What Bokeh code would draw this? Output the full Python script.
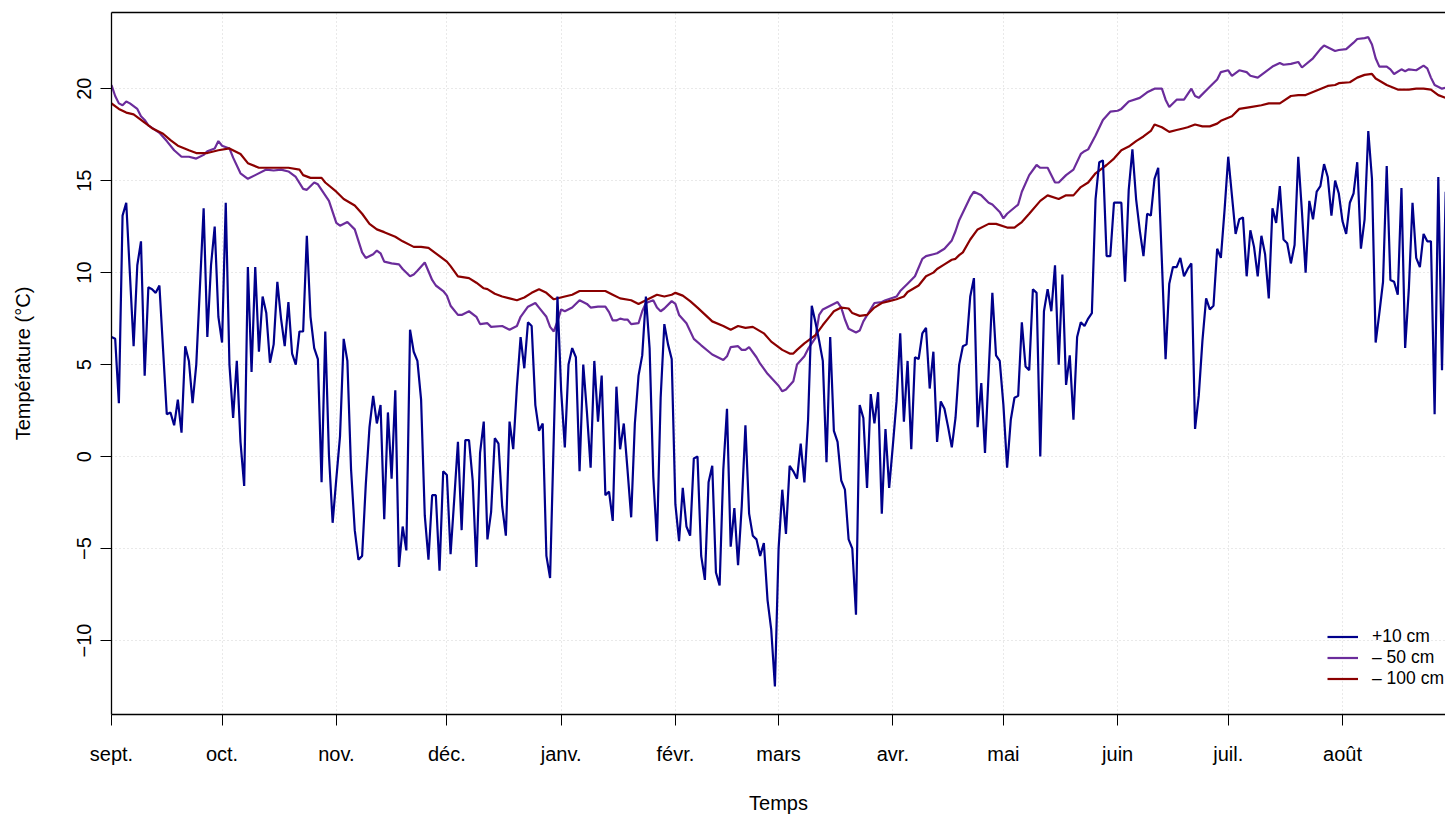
import pandas as pd
from bokeh.plotting import figure
from bokeh.models import Range1d, FixedTicker, LinearAxis, Legend, LegendItem
from bokeh.embed import file_html
from bokeh.resources import INLINE

# --- Calendar: one hydrological year starting on 1 September -------------
debut = pd.Timestamp("2014-09-01")
mois_debut = pd.date_range(debut, periods=12, freq="MS")
mois_ticks = [int((d - debut).days) for d in mois_debut]
mois_labels = ["sept.", "oct.", "nov.", "déc.", "janv.", "févr.",
               "mars", "avr.", "mai", "juin", "juil.", "août"]

y_ticks = [-10, -5, 0, 5, 10, 15, 20]

# --- Air temperature, +10 cm (day since 1 Sept, °C) -----------------------
jours_p10 = [0, 1, 2, 3, 4, 6, 7, 8, 9, 10, 11, 12, 13, 15, 16, 17, 18, 19, 20,
             21, 22, 23, 25, 26, 27, 28, 29, 30, 31, 32, 33, 34, 35, 36, 37, 38,
             39, 40, 41, 42, 43, 44, 45, 46, 47, 48, 49, 50, 51, 52, 53, 54, 55,
             56, 57, 58, 59, 60, 61, 62, 63, 64, 65, 66, 67, 68, 69, 70, 71, 72,
             73, 74, 75, 76, 77, 78, 79, 80, 81, 82, 83, 84, 85, 86, 87, 88, 89,
             90, 91, 92, 93, 94, 95, 96, 97, 98, 99, 100, 101, 102, 103, 104,
             105, 106, 107, 108, 109, 110, 111, 112, 113, 114, 115, 116, 117,
             118, 119, 121, 122, 123, 124, 125, 126, 127, 128, 129, 130, 131,
             132, 133, 134, 135, 136, 137, 138, 139, 140, 141, 142, 143, 144,
             145, 146, 147, 148, 149, 150, 151, 152, 153, 154, 155, 156, 157,
             158, 159, 160, 161, 162, 163, 164, 165, 166, 167, 168, 169, 170,
             171, 172, 173, 174, 175, 176, 177, 178, 179, 180, 181, 182, 183,
             184, 185, 186, 187, 188, 189, 190, 191, 192, 193, 194, 195, 196,
             197, 198, 199, 200, 201, 202, 203, 204, 205, 206, 207, 208, 209,
             210, 211, 212, 213, 214, 215, 216, 217, 218, 219, 220, 221, 222,
             223, 224, 225, 226, 227, 228, 229, 230, 231, 232, 233, 234, 235,
             236, 237, 238, 239, 240, 241, 242, 243, 244, 245, 246, 247, 248,
             249, 250, 251, 252, 253, 254, 255, 256, 257, 258, 259, 260, 261,
             262, 263, 264, 265, 266, 267, 268, 269, 270, 271, 272, 273, 274,
             275, 276, 277, 278, 279, 280, 281, 282, 283, 284, 285, 286, 287,
             288, 289, 290, 291, 292, 293, 294, 295, 296, 297, 298, 299, 300,
             301, 302, 303, 304, 305, 306, 307, 308, 309, 310, 311, 312, 313,
             314, 315, 316, 317, 318, 319, 320, 321, 322, 323, 324, 325, 326,
             327, 328, 329, 330, 331, 332, 333, 334, 335, 336, 337, 338, 339,
             340, 341, 342, 343, 344, 345, 346, 347, 348, 349, 350, 351, 352,
             353, 354, 355, 356, 357, 358, 359, 360, 361, 362]
temp_p10 = [6.5, 6.4, 2.9, 13.1, 13.8, 6.0, 10.4, 11.7, 4.4, 9.2, 9.1, 8.9, 9.3,
            2.3, 2.4, 1.7, 3.1, 1.3, 6.0, 5.2, 2.9, 5.0, 13.5, 6.5, 10.4, 12.5,
            7.6, 6.2, 13.8, 5.0, 2.1, 5.2, 0.8, -1.6, 10.3, 4.6, 10.3, 5.7, 8.7,
            7.8, 5.1, 6.1, 9.5, 7.5, 6.0, 8.4, 5.6, 5.0, 6.8, 6.8, 12.0, 7.6,
            5.9, 5.3, -1.4, 6.8, 0.1, -3.6, -1.2, 1.1, 6.4, 5.2, -0.7, -4.0,
            -5.6, -5.4, -1.5, 1.6, 3.3, 1.8, 2.8, -3.4, 2.4, -1.2, 3.6, -6.0,
            -3.8, -5.1, 6.9, 5.7, 5.2, 3.1, -3.2, -5.6, -2.1, -2.1, -6.2, -0.8,
            -1.0, -5.3, -2.3, 0.8, -4.0, 0.9, 0.9, -1.3, -6.0, 0.2, 1.9, -4.5,
            -3.0, 1.0, 0.7, -2.7, -4.3, 1.9, 0.4, 3.8, 6.5, 4.8, 7.3, 7.1, 2.8,
            1.4, 1.8, -5.4, -6.6, 8.7, 3.6, 0.5, 5.0, 5.9, 5.4, -0.8, 5.0, 2.4,
            -0.6, 5.2, 1.9, 4.4, -2.1, -1.9, -3.5, 3.8, 0.4, 1.8, -0.7, -3.3,
            1.8, 4.4, 5.5, 8.7, 5.9, -1.1, -4.6, 3.2, 7.2, 6.1, 5.3, -2.6, -4.6,
            -1.7, -3.8, -4.3, -0.1, 0.0, -5.4, -6.7, -1.4, -0.5, -6.3, -7.0,
            -0.7, 2.6, -4.9, -2.8, -5.9, -2.7, 1.7, -3.1, -4.3, -4.5, -5.4,
            -4.7, -7.8, -9.4, -12.5, -5.0, -1.8, -4.2, -0.5, -0.8, -1.2, 0.7,
            -1.4, 2.0, 8.2, 7.3, 6.3, 5.2, -0.3, 6.5, 1.4, 0.8, -1.3, -1.8,
            -4.5, -5.0, -8.6, 2.8, 2.1, -1.7, 3.4, 1.8, 3.5, -3.1, 1.5, -1.7,
            0.6, 3.0, 6.7, 1.9, 5.2, 0.4, 5.4, 5.3, 6.7, 7.0, 3.7, 5.7, 0.8,
            3.0, 2.6, 1.6, 0.5, 2.1, 5.0, 6.0, 6.1, 8.7, 9.7, 1.6, 4.0, 0.2,
            4.6, 8.9, 5.5, 5.2, 2.8, -0.6, 2.0, 3.2, 3.3, 7.3, 4.9, 4.7, 9.1,
            8.9, 0.0, 7.9, 9.1, 7.9, 10.4, 5.0, 9.9, 3.9, 5.5, 2.0, 6.5, 7.3,
            7.1, 7.5, 7.8, 14.0, 16.0, 16.1, 10.9, 10.9, 13.8, 13.8, 13.8, 9.5,
            14.5, 16.7, 14.0, 12.3, 10.9, 13.2, 13.1, 15.1, 15.7, 10.6, 5.3,
            9.4, 10.3, 10.3, 10.8, 9.8, 10.2, 10.5, 1.5, 3.3, 6.3, 8.6, 8.0,
            8.2, 11.3, 10.8, 13.4, 16.3, 14.2, 12.1, 12.9, 13.0, 9.8, 12.3,
            11.4, 9.8, 12.0, 11.0, 8.6, 13.5, 12.7, 14.7, 11.8, 11.6, 10.5,
            11.5, 16.3, 13.3, 10.0, 13.9, 12.9, 14.4, 14.7, 15.9, 15.2, 13.1,
            15.0, 14.3, 12.8, 12.1, 13.8, 14.3, 16.0, 11.3, 12.9, 17.7, 15.1,
            6.2, 7.8, 9.5, 15.8, 9.6, 9.5, 8.8, 14.6, 5.9, 9.1, 13.8, 10.8,
            10.3, 12.1, 11.7, 11.7, 2.3, 15.2, 4.7, 14.4]

# --- Soil temperature, -50 cm ---------------------------------------------
jours_m50 = [0, 1, 2, 3, 4, 5, 7, 8, 9, 10, 13, 15, 17, 19, 21, 23, 25, 26, 28,
             29, 30, 32, 33, 35, 37, 39, 42, 44, 46, 48, 50, 52, 53, 55, 56, 59,
             61, 62, 64, 66, 68, 69, 71, 72, 73, 74, 76, 78, 79, 81, 82, 83, 85,
             87, 88, 90, 91, 92, 94, 95, 97, 99, 100, 102, 103, 106, 108, 110,
             111, 113, 115, 116, 118, 119, 120, 121, 122, 123, 125, 127, 129,
             130, 132, 134, 135, 136, 137, 138, 139, 140, 141, 143, 144, 145,
             147, 148, 149, 150, 152, 153, 154, 156, 158, 160, 163, 166, 167,
             168, 170, 171, 172, 173, 175, 176, 178, 181, 182, 183, 185, 186,
             188, 189, 191, 192, 193, 195, 197, 198, 199, 200, 202, 203, 204,
             207, 209, 210, 213, 214, 216, 218, 220, 221, 223, 224, 226, 228,
             229, 230, 233, 234, 236, 238, 239, 241, 242, 243, 246, 247, 249,
             251, 252, 254, 256, 257, 259, 261, 263, 264, 265, 267, 269, 271,
             273, 274, 276, 279, 281, 283, 285, 286, 287, 289, 291, 293, 294,
             295, 298, 300, 301, 303, 304, 306, 308, 309, 311, 313, 315, 317,
             318, 320, 322, 323, 326, 328, 329, 332, 333, 335, 337, 338, 340,
             341, 342, 343, 344, 346, 347, 348, 350, 351, 352, 354, 356, 357,
             358, 359, 361, 362]
temp_m50 = [20.2, 19.6, 19.2, 19.1, 19.3, 19.2, 18.9, 18.5, 18.3, 18.0, 17.6,
            17.15, 16.65, 16.3, 16.3, 16.2, 16.4, 16.6, 16.75, 17.15, 16.9,
            16.75, 16.25, 15.4, 15.1, 15.3, 15.6, 15.55, 15.6, 15.5, 15.2,
            14.55, 14.5, 14.9, 14.8, 13.9, 12.7, 12.55, 12.75, 12.35, 11.1,
            10.8, 11.0, 11.2, 11.05, 10.6, 10.5, 10.45, 10.2, 9.8, 9.9, 10.1,
            10.55, 9.6, 9.3, 9.0, 8.75, 8.2, 7.7, 7.7, 7.9, 7.6, 7.2, 7.25,
            7.05, 7.1, 6.9, 7.1, 7.6, 8.15, 8.35, 8.1, 7.6, 7.05, 6.8, 7.35,
            8.0, 7.9, 8.1, 8.5, 8.3, 8.1, 8.15, 8.15, 7.85, 7.4, 7.4, 7.5,
            7.45, 7.45, 7.2, 7.25, 7.9, 8.35, 8.5, 8.1, 7.9, 8.05, 8.45, 8.3,
            7.7, 7.25, 6.4, 6.05, 5.55, 5.25, 5.45, 5.95, 6.0, 5.8, 5.8, 5.95,
            5.4, 5.05, 4.5, 3.85, 3.55, 3.65, 4.1, 5.0, 5.45, 5.85, 6.45, 7.7,
            8.0, 8.2, 8.4, 8.1, 7.45, 6.95, 6.75, 6.85, 7.35, 8.35, 8.4, 8.5,
            8.7, 9.0, 9.4, 9.8, 10.75, 10.9, 11.0, 11.05, 11.3, 11.75, 12.25,
            12.85, 14.1, 14.4, 14.2, 13.8, 13.7, 13.3, 12.95, 13.2, 13.7, 14.4,
            15.3, 15.85, 15.7, 15.7, 14.9, 14.9, 15.3, 15.6, 16.45, 16.6, 16.7,
            17.45, 18.3, 18.75, 18.8, 18.9, 19.3, 19.5, 19.8, 20.0, 20.0, 19.4,
            19.0, 19.4, 19.4, 20.0, 19.6, 19.5, 20.1, 20.5, 20.9, 21.0, 20.7,
            21.0, 20.9, 20.7, 20.6, 20.9, 21.2, 21.4, 21.3, 21.35, 21.45, 21.15,
            21.65, 22.15, 22.35, 22.05, 22.1, 22.15, 22.5, 22.7, 22.75, 22.8,
            22.4, 21.65, 21.2, 21.2, 21.05, 20.8, 21.05, 20.95, 21.05, 21.0,
            21.25, 21.1, 20.6, 20.2, 20.0, 20.05]

# --- Soil temperature, -100 cm --------------------------------------------
jours_m100 = [0, 2, 4, 6, 8, 9, 11, 14, 16, 18, 21, 23, 26, 29, 32, 35, 37, 40,
              46, 48, 51, 52, 54, 57, 58, 61, 63, 66, 68, 70, 72, 74, 77, 79,
              82, 84, 86, 88, 90, 91, 92, 94, 97, 99, 101, 102, 104, 106, 108,
              110, 112, 114, 116, 118, 120, 123, 125, 127, 130, 134, 136, 138,
              141, 143, 145, 148, 150, 152, 153, 155, 157, 159, 163, 166, 168,
              170, 172, 174, 177, 179, 182, 184, 185, 186, 188, 191, 193, 195,
              196, 198, 200, 201, 203, 205, 207, 209, 211, 213, 215, 216, 219,
              221, 223, 224, 226, 228, 229, 230, 231, 233, 235, 238, 240, 243,
              245, 247, 249, 252, 254, 257, 259, 261, 263, 265, 267, 270, 272,
              274, 276, 278, 280, 282, 283, 285, 287, 289, 291, 292, 294, 296,
              298, 300, 301, 304, 306, 309, 312, 314, 317, 320, 322, 324, 327,
              330, 332, 333, 336, 338, 340, 342, 343, 346, 349, 352, 354, 356,
              358, 360, 362]
temp_m100 = [19.2, 18.9, 18.7, 18.6, 18.3, 18.15, 17.85, 17.55, 17.2, 16.9,
             16.65, 16.5, 16.5, 16.65, 16.75, 16.45, 15.95, 15.7, 15.7, 15.7,
             15.6, 15.3, 15.15, 15.15, 14.9, 14.4, 14.0, 13.65, 13.2, 12.65,
             12.35, 12.2, 11.95, 11.7, 11.4, 11.4, 11.35, 11.05, 10.75, 10.6,
             10.35, 9.8, 9.7, 9.45, 9.15, 9.1, 8.85, 8.7, 8.6, 8.5, 8.65, 8.9,
             9.1, 8.9, 8.55, 8.7, 8.8, 9.0, 9.0, 9.0, 8.8, 8.6, 8.5, 8.3, 8.5,
             8.8, 8.7, 8.8, 8.9, 8.75, 8.45, 8.1, 7.35, 7.1, 6.9, 7.1, 7.0,
             7.05, 6.7, 6.25, 5.8, 5.6, 5.6, 5.8, 6.15, 6.6, 7.15, 7.65, 7.9,
             8.1, 8.05, 7.8, 7.65, 7.7, 8.1, 8.35, 8.45, 8.55, 8.7, 8.95, 9.3,
             9.8, 10.0, 10.2, 10.45, 10.7, 10.75, 10.95, 11.1, 11.8, 12.35,
             12.65, 12.65, 12.45, 12.45, 12.75, 13.2, 13.9, 14.2, 14.0, 14.2,
             14.2, 14.65, 14.9, 15.4, 15.85, 16.2, 16.65, 16.85, 17.15, 17.4,
             17.7, 18.05, 17.9, 17.65, 17.75, 17.85, 17.9, 18.05, 17.95, 17.95,
             18.1, 18.25, 18.5, 18.9, 19.0, 19.1, 19.2, 19.2, 19.6, 19.65,
             19.65, 19.9, 20.15, 20.2, 20.3, 20.35, 20.6, 20.75, 20.8, 20.55,
             20.2, 19.95, 19.95, 20.0, 20.0, 19.95, 19.65, 19.5]

POLICE = "Liberation Sans"
TAILLE = "20px"

p = figure(width=1445, height=816, output_backend="svg", toolbar_location=None,
           x_range=Range1d(0, 361.95), y_range=Range1d(-14.02, 24.14),
           min_border_left=111, min_border_right=0, min_border_top=12,
           min_border_bottom=101, outline_line_color=None,
           background_fill_color="white", border_fill_color="white")

# Bottom axis: month starts
xa = p.xaxis[0]
xa.ticker = FixedTicker(ticks=mois_ticks)
xa.major_label_overrides = dict(zip(mois_ticks, mois_labels))
xa.axis_label = "Temps"

# Left axis: temperature, labels written parallel to the axis
ya = p.yaxis[0]
ya.ticker = FixedTicker(ticks=y_ticks)
ya.major_label_overrides = {t: str(t).replace("-", "\u2212") for t in y_ticks}
ya.major_label_orientation = "vertical"
ya.axis_label = "Température (°C)"

for ax in (xa, ya):
    ax.axis_line_color = "black"
    ax.axis_line_width = 1.3
    ax.major_tick_line_color = "black"
    ax.major_tick_line_width = 1
    ax.major_tick_in = 0
    ax.major_tick_out = 11
    ax.minor_tick_line_color = None
    ax.major_label_text_font = POLICE
    ax.major_label_text_font_size = TAILLE
    ax.major_label_text_color = "black"
    ax.axis_label_text_font = POLICE
    ax.axis_label_text_font_size = TAILLE
    ax.axis_label_text_font_style = "normal"
    ax.axis_label_text_color = "black"

xa.major_label_standoff = 17
xa.axis_label_standoff = 24
ya.major_label_standoff = 9
ya.axis_label_standoff = 41

# Top edge of the box
haut = LinearAxis(ticker=FixedTicker(ticks=[]), axis_line_color="black",
                  axis_line_width=1.3, major_tick_line_color=None,
                  minor_tick_line_color=None, major_label_text_font_size="0px",
                  major_tick_out=0, major_tick_in=0, major_label_standoff=0)
p.add_layout(haut, "above")

# Dotted light-grey grid at month starts and every 5 °C
for g in (p.xgrid[0], p.ygrid[0]):
    g.grid_line_color = "#D3D3D3"
    g.grid_line_dash = "1 3"
    g.grid_line_width = 1
p.xgrid[0].ticker = FixedTicker(ticks=mois_ticks)
p.ygrid[0].ticker = FixedTicker(ticks=y_ticks)

r50 = p.line(jours_m50, temp_m50, line_color="#6B2C9B", line_width=2.2)
r100 = p.line(jours_m100, temp_m100, line_color="#8B0000", line_width=2.2)
r10 = p.line(jours_p10, temp_p10, line_color="#00008B", line_width=2.2)

legende = Legend(items=[LegendItem(label="+10 cm", renderers=[r10]),
                        LegendItem(label="\u2013 50 cm", renderers=[r50]),
                        LegendItem(label="\u2013 100 cm", renderers=[r100])],
                 location=(1216, 25), orientation="vertical",
                 glyph_width=31, glyph_height=21, label_height=21,
                 label_standoff=14, spacing=0, padding=0, margin=0,
                 border_line_color=None, background_fill_alpha=0,
                 label_text_font=POLICE, label_text_font_size="17.5px",
                 label_text_color="black")
p.add_layout(legende, "center")

open("out.html", "w").write(file_html(p, INLINE))
